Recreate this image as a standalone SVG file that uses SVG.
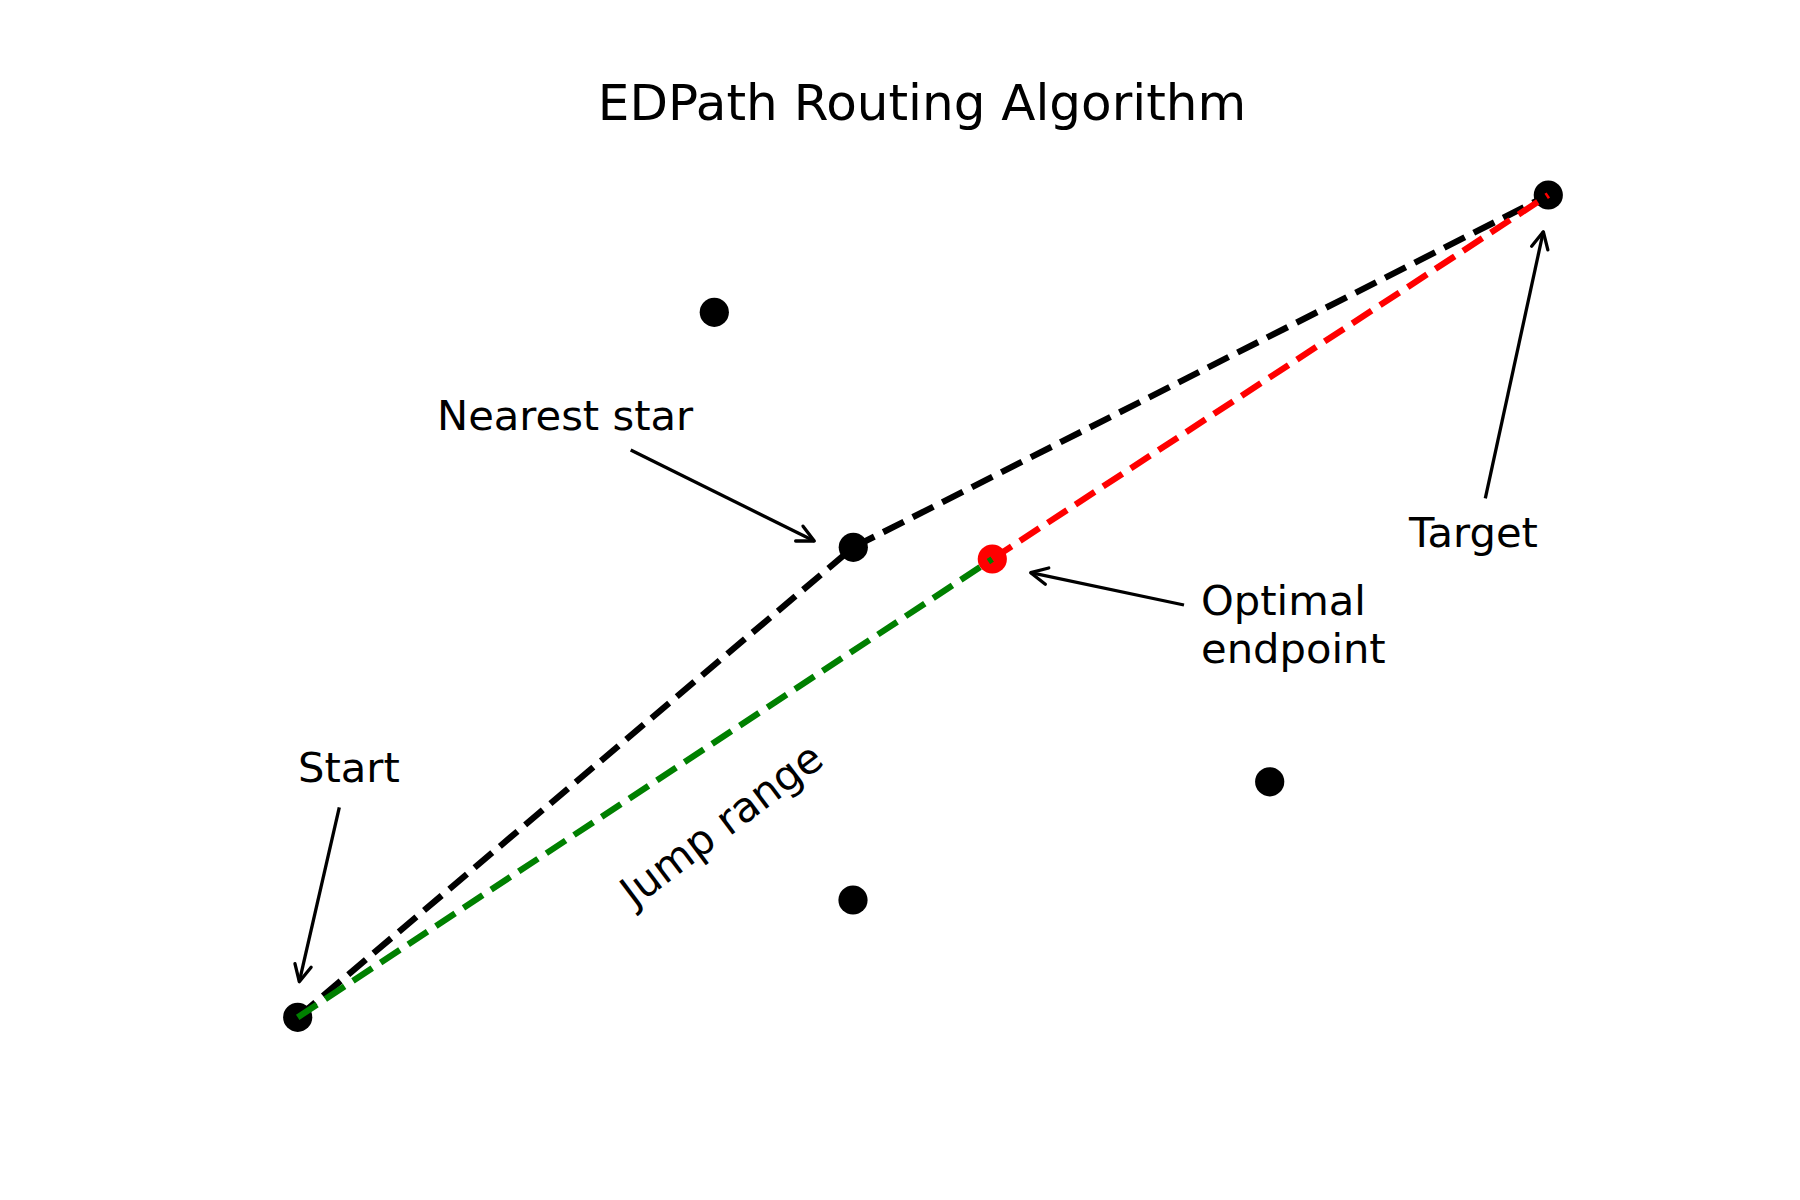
<svg xmlns="http://www.w3.org/2000/svg" width="1800" height="1200" viewBox="0 0 1800 1200">
<style>
text{font-family:"DejaVu Sans","Liberation Sans",sans-serif;fill:#000}
.lbl{font-size:41.67px}
.title{font-size:50px}
.star{fill:#000}
.dash{fill:none;stroke-width:6.25;stroke-dasharray:23.1 10;stroke-linecap:butt;stroke-linejoin:round}
.ann{fill:none;stroke:#000;stroke-width:3.3;marker-end:url(#arr)}
</style>
<defs>
<marker id="arr" viewBox="-20 -20 40 40" markerWidth="40" markerHeight="40" refX="0" refY="0" orient="auto" markerUnits="userSpaceOnUse" overflow="visible">
<path d="M-16.7,-8.3 L0,0 L-16.7,8.3" fill="none" stroke="#000" stroke-width="3.3" stroke-linejoin="round" stroke-linecap="round"/>
</marker>
</defs>
<rect width="1800" height="1200" fill="#fff"/>
<text class="title" x="922" y="120" text-anchor="middle">EDPath Routing Algorithm</text>
<g id="star1"><circle class="star" cx="714.3" cy="312.3" r="14.6"/></g>
<g id="star2"><circle class="star" cx="1269.7" cy="781.8" r="14.6"/></g>
<g id="star3"><circle class="star" cx="853" cy="900" r="14.6"/></g>
<g id="start"><circle class="star" cx="297.7" cy="1017.3" r="14.6"/><text class="lbl" x="298" y="782">Start</text></g>
<g id="nearest"><circle class="star" cx="853.3" cy="547.3" r="14.6"/><text class="lbl" x="437" y="430">Nearest star</text></g>
<g id="endpoint"><circle cx="992.3" cy="559" r="14.6" fill="#ff0000"/><text class="lbl" x="1201" y="615">Optimal</text><text class="lbl" x="1201" y="663">endpoint</text></g>
<g id="target"><circle class="star" cx="1548.3" cy="195" r="14.6"/><text class="lbl" x="1409" y="547">Target</text></g>
<g id="connectors">
<polyline class="dash" stroke="#000" points="297.7,1017.3 853.3,547.3 1548.3,195"/>
<line class="dash" stroke="#008000" x1="297.7" y1="1017.3" x2="992.3" y2="559"/>
<line class="dash" stroke="#ff0000" x1="992.3" y1="559" x2="1548.3" y2="195"/>
<line class="ann" x1="339.3" y1="807.3" x2="299.3" y2="981.7"/>
<line class="ann" x1="630.7" y1="450" x2="814.3" y2="541"/>
<line class="ann" x1="1184" y1="605" x2="1030.7" y2="572.7"/>
<line class="ann" x1="1485.3" y1="498.3" x2="1543.3" y2="231.7"/>
<text class="lbl" transform="translate(724,828) rotate(-37)" x="0" y="10" text-anchor="middle">Jump range</text>
</g>
</svg>
